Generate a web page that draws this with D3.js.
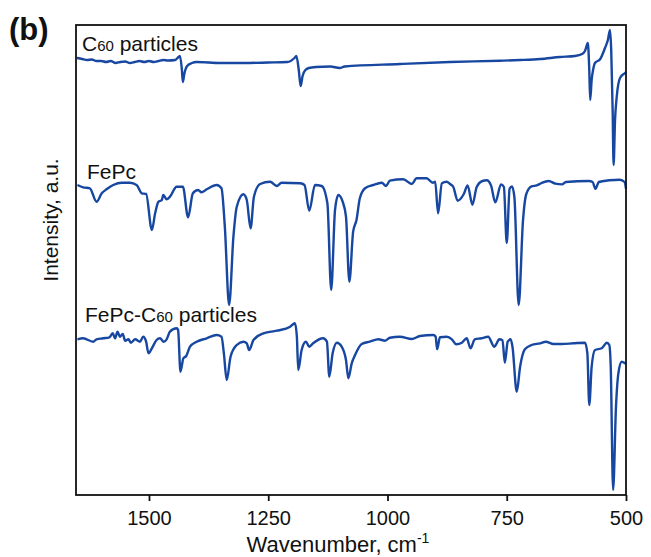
<!DOCTYPE html>
<html>
<head>
<meta charset="utf-8">
<script src="https://cdn.jsdelivr.net/npm/d3@7/dist/d3.min.js"></script>
<style>
  body { margin: 0; background: #fff; }
  text { font-family: "Liberation Sans", Arial, sans-serif; }
</style>
</head>
<body>
<div id="chart"></div>
<script>
var SVGWidth = 651;
var SVGHeight = 557;

// plot box
var Left = 76, Right = 626, Top = 25, Bottom = 495;

var lineColor = "#1747a0";

// x ticks (wavenumber, cm-1)
var xTicks = [1500, 1250, 1000, 750, 500];

// spectra: [wavenumber, intensity (a.u.)]
var c60Data = [
    [1651, 442], [1640, 441], [1630, 440], [1620, 440.5], [1610, 439], [1600, 439],
    [1590, 438], [1580, 439], [1570, 437], [1560, 438], [1550, 438.5], [1540, 437],
    [1530, 438], [1520, 439], [1510, 438], [1500, 439], [1490, 438], [1480, 439],
    [1470, 440], [1460, 439.5], [1445, 440], [1438, 443], [1435, 444], [1431, 430],
    [1429, 418], [1426, 426], [1420, 434], [1410, 437], [1400, 438], [1350, 437],
    [1300, 437], [1250, 437.5], [1210, 438], [1195, 442], [1191, 444], [1186, 430],
    [1182, 414], [1178, 424], [1172, 430], [1165, 432], [1150, 433], [1120, 433.5],
    [1100, 432], [1090, 433.5], [974, 436], [869, 438], [764, 439.3], [722, 440],
    [680, 441], [638, 443], [607, 444], [592, 446], [586, 449], [580, 457],
    [577, 430], [575, 400], [572, 420], [569, 430], [565, 437], [554, 441],
    [544, 452], [538, 460], [533.5, 470], [531, 450], [528, 390], [526, 335],
    [523, 380], [519.5, 403], [512.5, 422], [502, 427], [500, 428]
];

var fepcData = [
    [1650, 315], [1638, 312.7], [1624, 311.7], [1610, 298.3], [1599, 306.7], [1589, 310.7],
    [1575, 315], [1557, 317.3], [1540, 317.3], [1526, 315], [1515, 306.7], [1506, 306],
    [1494, 270], [1487, 287], [1480, 298.3], [1473, 300], [1470, 305], [1463, 300.7],
    [1456, 303.3], [1442, 313.3], [1429, 313.3], [1418, 282.7], [1408, 306.7], [1397, 310],
    [1390, 307.7], [1379, 310.7], [1358, 315], [1348, 311.7], [1341, 273.3], [1332, 195],
    [1323, 263.3], [1316, 293.3], [1302, 305.7], [1295, 300], [1287, 271.7], [1280, 303.3],
    [1267, 316], [1246, 318.3], [1232, 314], [1222, 317.3], [1183, 316.7], [1174, 315],
    [1164, 289.3], [1152, 315], [1138, 314], [1126, 296.7], [1118, 210], [1110, 290],
    [1103, 305], [1094, 298.3], [1087, 283.3], [1080, 218.3], [1072, 268.3], [1065, 280],
    [1058, 301.7], [1047, 311.7], [1030, 315], [1012, 317.3], [1003, 314], [995, 319.3],
    [967, 320.7], [949, 316], [939, 321.7], [918, 321.7], [905, 317.3], [900, 318.3],
    [894, 286.7], [886, 316.7], [876, 318.3], [869, 316], [862, 313], [853, 299.3],
    [840, 306], [832, 314.6], [822, 295.3], [813, 313], [801, 319], [792, 319.7],
    [783, 314.6], [774, 297.6], [762, 315.6], [756, 313], [750, 257], [744, 311.2],
    [739, 313.6], [734, 303], [725, 195], [716, 279], [709, 306], [698, 313.6],
    [687, 314.6], [677, 317], [662, 319], [648, 316.3], [634, 315.6], [626, 318],
    [578, 319], [570, 318], [564, 311.2], [557, 318], [535, 319.7], [513, 320.3],
    [503, 318], [500, 311.2]
];

var mixData = [
    [1650, 160.7], [1638, 161.7], [1617, 158.3], [1610, 160.7], [1596, 161.7], [1583, 162.7],
    [1576, 166.7], [1571, 161.7], [1566, 168.3], [1561, 163.3], [1555, 166], [1550, 159.3],
    [1543, 160.7], [1538, 157.3], [1529, 160.7], [1519, 158.3], [1512, 163.3], [1506, 158.3],
    [1501, 146.7], [1494, 151.7], [1484, 160], [1477, 161.7], [1469, 158.3], [1463, 160.7],
    [1456, 168.3], [1442, 171.7], [1439, 170], [1434, 128.3], [1428, 141.7], [1422, 144],
    [1414, 153.3], [1400, 158.3], [1379, 161.7], [1358, 165], [1348, 163.3], [1343, 146.7],
    [1337, 120], [1329, 143.3], [1316, 155], [1302, 158.3], [1295, 156.7], [1290, 150],
    [1281, 160], [1260, 166.7], [1232, 169.3], [1204, 173.3], [1194, 176.7], [1190, 163.3],
    [1187, 130], [1180, 150], [1171, 158.3], [1164, 153.3], [1156, 156.7], [1135, 161.7],
    [1127, 158.3], [1122, 123.3], [1115, 146.7], [1106, 157.3], [1096, 153.3], [1087, 140],
    [1082, 121.7], [1075, 136.7], [1068, 145], [1054, 156], [1037, 158.3], [1019, 160.7],
    [1005, 159.3], [995, 162.3], [974, 163.3], [949, 161], [932, 164], [904, 165],
    [899, 163.3], [896, 150.7], [890, 162.7], [876, 163.3], [865, 160.7], [856, 155.7],
    [844, 157.3], [834, 161.7], [826, 151.7], [817, 160.7], [803, 161.7], [789, 163.3],
    [776, 153.3], [771, 156.7], [766, 160.7], [759, 160], [754, 137.3], [748, 158.3],
    [742, 160.7], [738, 153.3], [729, 108.3], [722, 133.3], [712, 150.7], [698, 155],
    [680, 156.7], [668, 158.3], [652, 156], [635, 156], [610, 156.7], [586, 157.3],
    [581, 146.7], [577, 95], [572, 133.3], [565, 150], [551, 151.7], [540, 157.3],
    [535, 155], [532, 133.3], [527, 10], [521, 93.3], [516, 126.7], [509, 138.3],
    [502, 136.7], [500, 136]
];

var svg = d3.select("#chart")
    .append("svg")
        .attr("width", SVGWidth)
        .attr("height", SVGHeight);

var x = d3.scaleLinear()
    .domain([1653, 500])
    .range([Left, Right]);

var y = d3.scaleLinear()
    .domain([5, 475])
    .range([Bottom, Top]);

var line = d3.line()
    .x(function(d) { return x(d[0]); })
    .y(function(d) { return y(d[1]); })
    .curve(d3.curveMonotoneX);

var plot = svg.append("g");

[c60Data, fepcData, mixData].forEach(function(data) {
    plot.append("path")
        .datum(data)
        .attr("fill", "none")
        .attr("stroke", lineColor)
        .attr("stroke-width", 2.4)
        .attr("stroke-linejoin", "round")
        .attr("d", line);
});

// frame
svg.append("rect")
    .attr("x", Left)
    .attr("y", Top)
    .attr("width", Right - Left)
    .attr("height", Bottom - Top)
    .attr("fill", "none")
    .attr("stroke", "#111")
    .attr("stroke-width", 1.8);

// bottom axis
var xAxis = svg.append("g")
    .attr("transform", "translate(0," + Bottom + ")")
    .call(d3.axisBottom(x)
        .tickValues(xTicks)
        .tickSizeInner(6)
        .tickSizeOuter(0)
        .tickPadding(10)
        .tickFormat(d3.format("d")));
xAxis.select(".domain").remove();
xAxis.selectAll(".tick line").attr("stroke", "#111").attr("stroke-width", 1.8);
xAxis.selectAll(".tick text")
    .attr("fill", "#111")
    .style("font-size", "20px")
    .style("font-family", "'Liberation Sans', Arial, sans-serif");

// axis titles
var xTitle = svg.append("text")
    .attr("x", 338)
    .attr("y", 552)
    .attr("text-anchor", "middle")
    .style("font-size", "22px")
    .attr("fill", "#111");
xTitle.append("tspan").text("Wavenumber, cm");
xTitle.append("tspan").attr("dy", -9).style("font-size", "14px").text("-1");

svg.append("text")
    .attr("transform", "translate(58," + 220 + ") rotate(-90)")
    .attr("text-anchor", "middle")
    .style("font-size", "21px")
    .attr("fill", "#111")
    .text("Intensity, a.u.");

// panel letter
svg.append("text")
    .attr("x", 9)
    .attr("y", 40)
    .style("font-size", "31px")
    .style("font-weight", "bold")
    .attr("fill", "#111")
    .text("(b)");

// spectrum labels
function label(xp, yp, parts) {
    var t = svg.append("text")
        .attr("x", xp)
        .attr("y", yp)
        .style("font-size", "21px")
        .attr("fill", "#111");
    parts.forEach(function(p) {
        t.append("tspan").style("font-size", p[1] + "px").text(p[0]);
    });
}
label(82, 51, [["C", 21], ["60", 15], [" particles", 21]]);
label(87, 179, [["FePc", 21]]);
label(85, 322, [["FePc-C", 21], ["60", 15], [" particles", 21]]);
</script>
</body>
</html>
